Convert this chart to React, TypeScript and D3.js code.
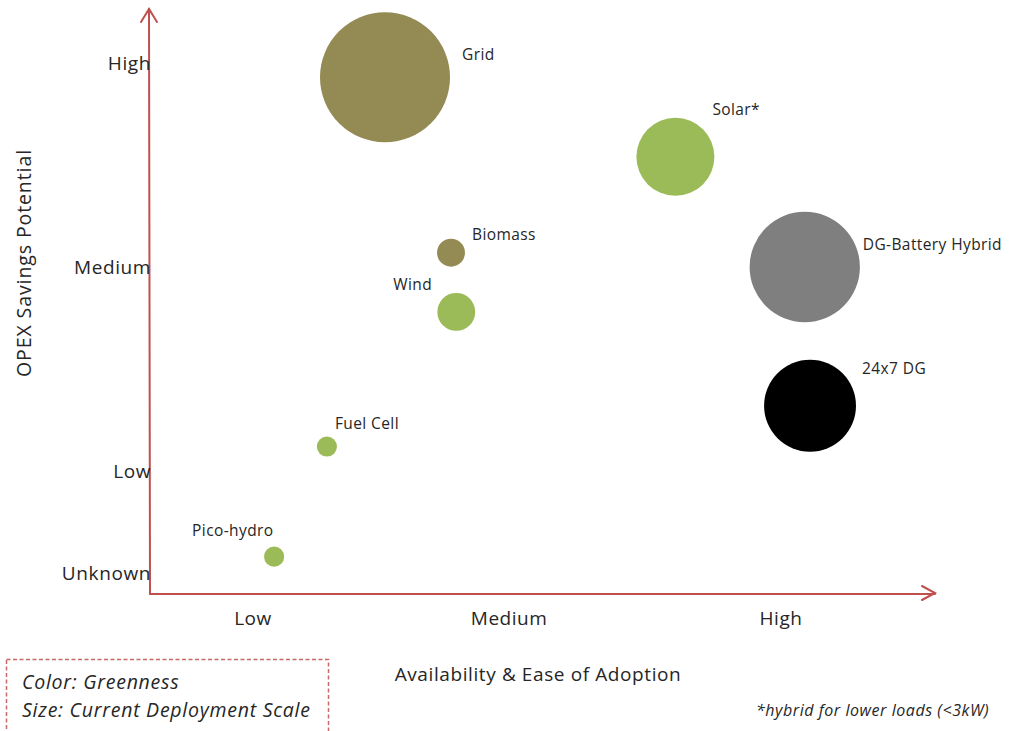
import React from "react";
import * as d3 from "d3";

const technologies = ["Grid", "Solar*", "DG-Battery Hybrid", "24x7 DG", "Biomass", "Wind", "Fuel Cell", "Pico-hydro"];
const availability = [1.5, 2.6, 3.09, 3.11, 1.75, 1.77, 1.28, 1.08];
const opexSavings = [2.93, 2.54, 2.0, 1.32, 2.07, 1.78, 1.12, 0.58];
const deploymentScale = [100, 36, 72, 50, 4.6, 8.5, 2.4, 2.4];
const greenness = ["olive", "green", "grey", "black", "olive", "green", "green", "green"];

const xTickLabels = ["Low", "Medium", "High"];
const xTickValues = [1, 1.97, 3];
const yTickLabels = ["Unknown", "Low", "Medium", "High"];
const yTickValues = [0.5, 1, 2, 3];

const colorMap: Record<string, string> = {
  olive: "#948A54",
  green: "#9BBB59",
  grey: "#7F7F7F",
  black: "#000000",
};

// label offsets (left edge, vertical center) relative to bubble center
const labelOffsets: Record<string, [number, number]> = {
  "Grid": [77, -23],
  "Solar*": [37, -47],
  "DG-Battery Hybrid": [58, -22],
  "24x7 DG": [52, -37],
  "Biomass": [21, -18],
  "Wind": [-63, -27],
  "Fuel Cell": [8, -23],
  "Pico-hydro": [-82, -26],
};

const W = 1020;
const H = 731;
const FONT = "'Open Sans', 'Noto Sans', sans-serif";
const AXIS = "#C0504D";
const TXT = "#262626";

export default function App() {
  const x = d3.scaleLinear().domain([1, 3]).range([253, 781]);
  const y = d3.scaleLinear().domain([1, 2]).range([471, 267]);
  const r = d3.scaleSqrt().domain([0, 100]).range([0, 65]);

  const originX = 150;
  const originY = 594;

  return (
    <svg width={W} height={H} style={{ position: "absolute", left: 0, top: 0 }} fontFamily={FONT}>
      <rect width={W} height={H} fill="#fff" />
      {technologies.map((t, i) => (
        <circle key={t} cx={x(availability[i])} cy={y(opexSavings[i])} r={r(deploymentScale[i])} fill={colorMap[greenness[i]]} />
      ))}
      {technologies.map((t, i) => {
        const [dx, dy] = labelOffsets[t];
        return (
          <text key={t + "l"} x={x(availability[i]) + dx} y={y(opexSavings[i]) + dy} dy="0.35em" fontSize={15.5} letterSpacing={0.4} fill={TXT}>
            {t}
          </text>
        );
      })}
      <g stroke={AXIS} strokeWidth={2} fill="none" strokeLinecap="round">
        <line x1={originX} y1={originY} x2={149} y2={9} />
        <polyline points="141,22 149,9 157,22" />
        <line x1={originX} y1={originY} x2={935} y2={originY} />
        <polyline points="922,586 935,593 922,600" />
      </g>
      {yTickLabels.map((l, i) => (
        <text key={l} x={151} y={y(yTickValues[i])} dy="0.35em" textAnchor="end" fontSize={19} letterSpacing={0.6} fill={TXT}>
          {l}
        </text>
      ))}
      {xTickLabels.map((l, i) => (
        <text key={l} x={x(xTickValues[i])} y={618} dy="0.35em" textAnchor="middle" fontSize={19} letterSpacing={0.5} fill={TXT}>
          {l}
        </text>
      ))}
      <text x={538} y={674} dy="0.35em" textAnchor="middle" fontSize={19} letterSpacing={0.6} fill={TXT}>
        Availability &amp; Ease of Adoption
      </text>
      <text transform="translate(24,263) rotate(-90)" dy="0.35em" textAnchor="middle" fontSize={19.5} letterSpacing={0.9} fill={TXT}>
        OPEX Savings Potential
      </text>
      <rect x={6.5} y={659.5} width={322} height={80} fill="none" stroke={AXIS} strokeWidth={1.5} strokeDasharray="4,2.5" opacity={0.85} />
      <text x={22} y={682} dy="0.35em" fontSize={19.5} letterSpacing={0.75} fontStyle="italic" fill={TXT}>Color: Greenness</text>
      <text x={22} y={710} dy="0.35em" fontSize={19.5} letterSpacing={0.75} fontStyle="italic" fill={TXT}>Size: Current Deployment Scale</text>
      <text x={756} y={710} dy="0.35em" fontSize={16} letterSpacing={0.55} fontStyle="italic" fill={TXT}>*hybrid for lower loads (&lt;3kW)</text>
    </svg>
  );
}
